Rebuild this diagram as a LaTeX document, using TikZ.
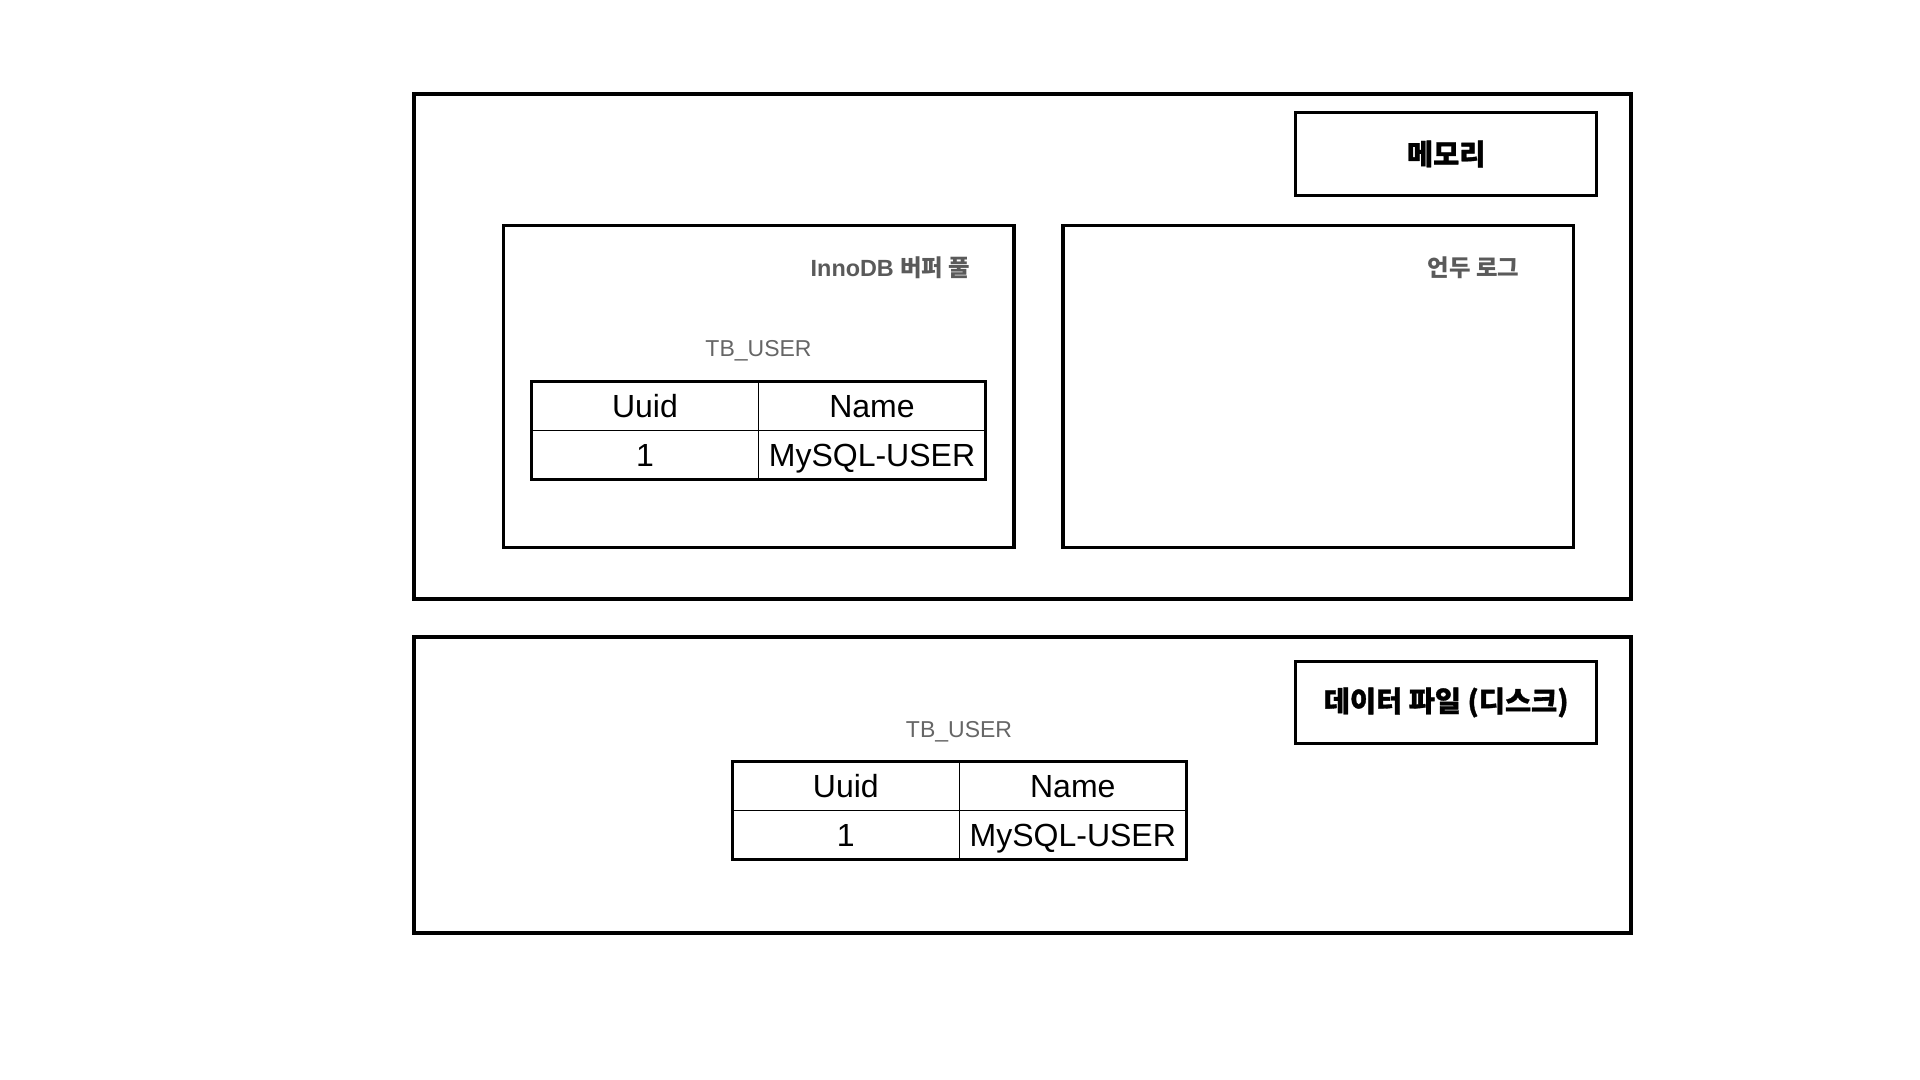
\documentclass[tikz,border=0pt]{standalone}
\usepackage{fontspec}
\setmainfont{Liberation Sans}
\newfontfamily\kr{Noto Sans CJK KR}
\newfontfamily\krheavy{Noto Sans CJK KR}[BoldFeatures={FakeBold=1.2}]
\definecolor{labelgray}{HTML}{5A5A5A}
\definecolor{tbgray}{HTML}{666666}
\begin{document}
\begin{tikzpicture}[x=0.5pt,y=-0.5pt,
  frame/.style={draw, line width=2.1pt, inner sep=0, outer sep=0},
  panel/.style={draw, line width=1.75pt, inner sep=0, outer sep=0, minimum width=255.3pt, minimum height=161pt},
  tag/.style={draw, line width=1.4pt, inner sep=0, outer sep=0, minimum width=150.5pt, minimum height=41.25pt,
    font=\krheavy\bfseries\fontsize{14.2}{17}\selectfont},
  cell/.style={draw, line width=0.7pt, inner sep=0, outer sep=0, minimum width=113.5pt, minimum height=24.35pt,
    font=\fontsize{16}{19}\selectfont, text height=11.4pt, text depth=0pt},
  tabframe/.style={line width=1.5pt},
  ptitle/.style={inner sep=0, text=labelgray, font=\bfseries\fontsize{11.7}{14}\selectfont, text height=8.4pt, text depth=0pt},
  tbname/.style={inner sep=0, anchor=base, text=tbgray, font=\fontsize{11.5}{14}\selectfont}
]
\useasboundingbox (0,0) rectangle (1920,1080);
\fill[white] (0,0) rectangle (1920,1080);

% memory area
\node[frame, minimum width=608.5pt, minimum height=252.3pt] (mem) at (1022.5,346.6) {};
\node[tag] (memtag) at (1446.2,154) {메모리};
\node[panel] (pool) at (758.6,386.3) {};
\node[panel] (undo) at (1318.2,386.3) {};
\node[ptitle] (pooltitle) at (890.5,268) {InnoDB {\kr 버퍼 풀}};
\node[ptitle] (undotitle) at (1473.5,268) {\kr 언두 로그};

\node[tbname] (tb1) at (758.5,357) {TB\_USER};
\node[cell] (a11) at (645,406) {Uuid};
\node[cell] (a12) at (872,406) {Name};
\node[cell] (a21) at (645,454.7) {1};
\node[cell] (a22) at (872,454.7) {MySQL-USER};
\draw[tabframe] (a11.north west) rectangle (a22.south east);

% disk area
\node[frame, minimum width=608.5pt, minimum height=148.2pt] (disk) at (1022.5,784.9) {};
\node[tag] (disktag) at (1446.2,702.5) {데이터 파일 (디스크)};

\node[tbname] (tb2) at (959,737) {TB\_USER};
\node[cell] (b11) at (845.8,786) {Uuid};
\node[cell] (b12) at (1072.8,786) {Name};
\node[cell] (b21) at (845.8,834.7) {1};
\node[cell] (b22) at (1072.8,834.7) {MySQL-USER};
\draw[tabframe] (b11.north west) rectangle (b22.south east);
\end{tikzpicture}
\end{document}
